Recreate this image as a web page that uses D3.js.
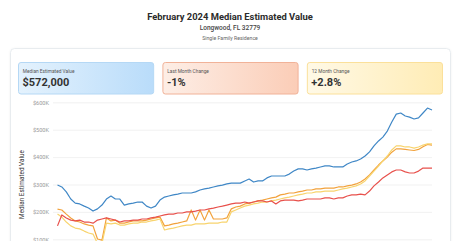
<!DOCTYPE html>
<html>
<head>
<meta charset="utf-8">
<script src="https://cdn.jsdelivr.net/npm/d3@7"></script>
<style>
    body { margin: 0; background: #fff; font-family: Roboto, 'Noto Sans', sans-serif; }
    svg { display: block; }
</style>
</head>
<body>
<svg id="chart" width="460" height="241"></svg>
<script>
// every second month, Feb 2010 .. Feb 2024
let months = d3.timeMonth.range(new Date(2010, 1, 1), new Date(2024, 2, 2), 2)

// values in $K
let allHomes = [298, 291, 273, 247, 232, 229, 221, 214, 203, 211, 225, 247, 258, 247, 247, 225, 229, 232, 236, 236,
    221, 214, 221, 243, 254, 258, 262, 265, 269, 269, 269, 273, 280, 284, 287, 291, 295, 298, 302, 305,
    305, 305, 313, 320, 309, 313, 313, 324, 331, 331, 331, 331, 338, 349, 357, 357, 353, 357, 360, 364,
    368, 368, 364, 364, 364, 375, 382, 386, 393, 404, 419, 441, 459, 473, 495, 528, 557, 561, 550, 546,
    539, 543, 561, 579, 572]
let seriesRed = [149, 189, 178, 170, 167, 170, 163, 163, 159, 170, 174, 178, 174, 170, 163, 167, 167, 170, 170, 174,
    174, 178, 181, 185, 189, 192, 192, 196, 196, 200, 200, 203, 207, 207, 211, 214, 218, 221, 225, 229,
    232, 232, 236, 232, 236, 240, 240, 236, 240, 229, 240, 243, 243, 243, 240, 243, 247, 247, 247, 247,
    251, 251, 247, 251, 251, 258, 262, 262, 265, 262, 276, 295, 309, 324, 335, 346, 353, 353, 346, 342,
    342, 349, 360, 360, 360]
let seriesOrange = [210, 207, 192, 178, 167, 163, 156, 152, 149, 101, 97, 178, 167, 170, 159, 159, 163, 167, 167, 167,
    170, 174, 178, 181, 149, 152, 156, 159, 163, 167, 207, 170, 207, 170, 207, 174, 174, 174, 178, 211,
    218, 221, 229, 232, 236, 240, 243, 247, 251, 254, 262, 265, 269, 269, 273, 276, 280, 280, 284, 284,
    287, 287, 287, 291, 291, 295, 298, 302, 309, 320, 335, 353, 371, 386, 400, 418, 430, 430, 428, 426,
    424, 428, 438, 446, 444]
let seriesYellow = [192, 181, 163, 149, 141, 138, 130, 123, 119, 85, 85, 159, 156, 159, 152, 152, 156, 159, 159, 163,
    163, 167, 170, 174, 134, 138, 141, 145, 149, 152, 152, 156, 156, 156, 159, 159, 159, 163, 163, 200,
    207, 214, 221, 225, 229, 232, 236, 236, 240, 243, 247, 251, 254, 258, 262, 265, 269, 269, 273, 273,
    276, 276, 276, 280, 284, 287, 291, 295, 302, 313, 331, 349, 367, 386, 404, 426, 441, 441, 437, 437,
    433, 437, 444, 448, 448]

let series = [
    { name: 'Orange', values: seriesOrange, color: '#f2a23c' },
    { name: 'Yellow', values: seriesYellow, color: '#f8d46e' },
    { name: 'Red', values: seriesRed, color: '#e8514c' },
    { name: 'All', values: allHomes, color: '#3f87c6' }
]

let yTicks = [0, 100, 200, 300, 400, 500, 600]

let stats = [
    { label: 'Median Estimated Value', value: '$572,000', from: '#e4f2fd', to: '#b9dcfa', border: '#b5d8f5' },
    { label: 'Last Month Change', value: '-1%', from: '#fdeee6', to: '#fbcdb7', border: '#f1b298' },
    { label: '12 Month Change', value: '+2.8%', from: '#fff9e6', to: '#ffecb5', border: '#fbe09a' }
]

let chart = d3.select('#chart')

chart.append('text')
    .attr('x', 230).attr('y', 19.5)
    .attr('text-anchor', 'middle')
    .attr('font-size', 9.4).attr('font-weight', 700).attr('fill', '#2b2b2b')
    .text('February 2024 Median Estimated Value')
chart.append('text')
    .attr('x', 230).attr('y', 29.5)
    .attr('text-anchor', 'middle')
    .attr('font-size', 6.5).attr('font-weight', 500).attr('fill', '#444')
    .text('Longwood, FL 32779')
chart.append('text')
    .attr('x', 230).attr('y', 39.5)
    .attr('text-anchor', 'middle')
    .attr('font-size', 5.2).attr('fill', '#666')
    .text('Single Family Residence')

// outer card
let defs = chart.append('defs')
defs.append('filter').attr('id', 'shadow')
    .attr('x', -0.05).attr('y', -0.05).attr('width', 1.1).attr('height', 1.1)
    .append('feDropShadow')
    .attr('dx', 0).attr('dy', 0.5).attr('stdDeviation', 1)
    .attr('flood-color', '#000').attr('flood-opacity', 0.06)
chart.append('rect')
    .attr('x', 10.5).attr('y', 48.5)
    .attr('width', 440).attr('height', 230)
    .attr('rx', 4)
    .attr('fill', '#fff').attr('stroke', '#e8ecef')
    .attr('filter', 'url(#shadow)')

// stat cards
let cardScale = d3.scaleBand()
    .domain(stats.map((d) => d.label))
    .range([18, 442])
    .paddingInner(0.064)

stats.forEach((d, i) => {
    let grad = defs.append('linearGradient')
        .attr('id', 'grad' + i)
        .attr('x1', '0%').attr('x2', '100%').attr('y1', '0%').attr('y2', '0%')
    grad.append('stop').attr('offset', '0%').attr('stop-color', d.from)
    grad.append('stop').attr('offset', '100%').attr('stop-color', d.to)
})

let cards = chart.append('g')
    .selectAll('g')
    .data(stats)
    .enter()
    .append('g')
    .attr('transform', (d) => 'translate(' + cardScale(d.label) + ',62)')
cards.append('rect')
    .attr('x', 0.5).attr('y', 0.5)
    .attr('width', cardScale.bandwidth()).attr('height', 31.5)
    .attr('rx', 2.5)
    .attr('fill', (d, i) => 'url(#grad' + i + ')')
    .attr('stroke', (d) => d.border)
cards.append('text')
    .attr('x', 4.8).attr('y', 10.8)
    .attr('font-size', 4.8).attr('fill', '#555')
    .text((d) => d.label)
cards.append('text')
    .attr('x', 4.5).attr('y', 24)
    .attr('font-size', 11).attr('font-weight', 700).attr('fill', '#333')
    .text((d) => d.value)

// plot
let xScale = d3.scaleTime()
    .domain(d3.extent(months))
    .range([57.5, 432])
let yScale = d3.scaleLinear()
    .domain([0, 600])
    .range([266.7, 102.3])

let axisLeft = d3.axisLeft(yScale)
    .tickValues(yTicks)
    .tickSize(-379)
    .tickPadding(4)
    .tickFormat((d) => '$' + d + 'K')

let yAxis = chart.append('g')
    .attr('transform', 'translate(53,0)')
    .call(axisLeft)
yAxis.select('.domain').remove()
yAxis.selectAll('.tick line').attr('stroke', '#eeeeee').attr('stroke-width', 0.8)
yAxis.selectAll('.tick text')
    .attr('fill', '#999').attr('font-size', 5.6)
    .attr('font-family', 'Roboto, sans-serif')

chart.append('text')
    .attr('transform', 'translate(23.5,184.5) rotate(-90)')
    .attr('text-anchor', 'middle')
    .attr('font-size', 6.4).attr('fill', '#333')
    .text('Median Estimated Value')

let line = d3.line()
    .x((d, i) => xScale(months[i]))
    .y((d) => yScale(d))

chart.append('g')
    .selectAll('path')
    .data(series)
    .enter()
    .append('path')
    .attr('d', (d) => line(d.values))
    .attr('fill', 'none')
    .attr('stroke', (d) => d.color)
    .attr('stroke-width', 1.2)
    .attr('stroke-linejoin', 'round')
</script>
</body>
</html>
